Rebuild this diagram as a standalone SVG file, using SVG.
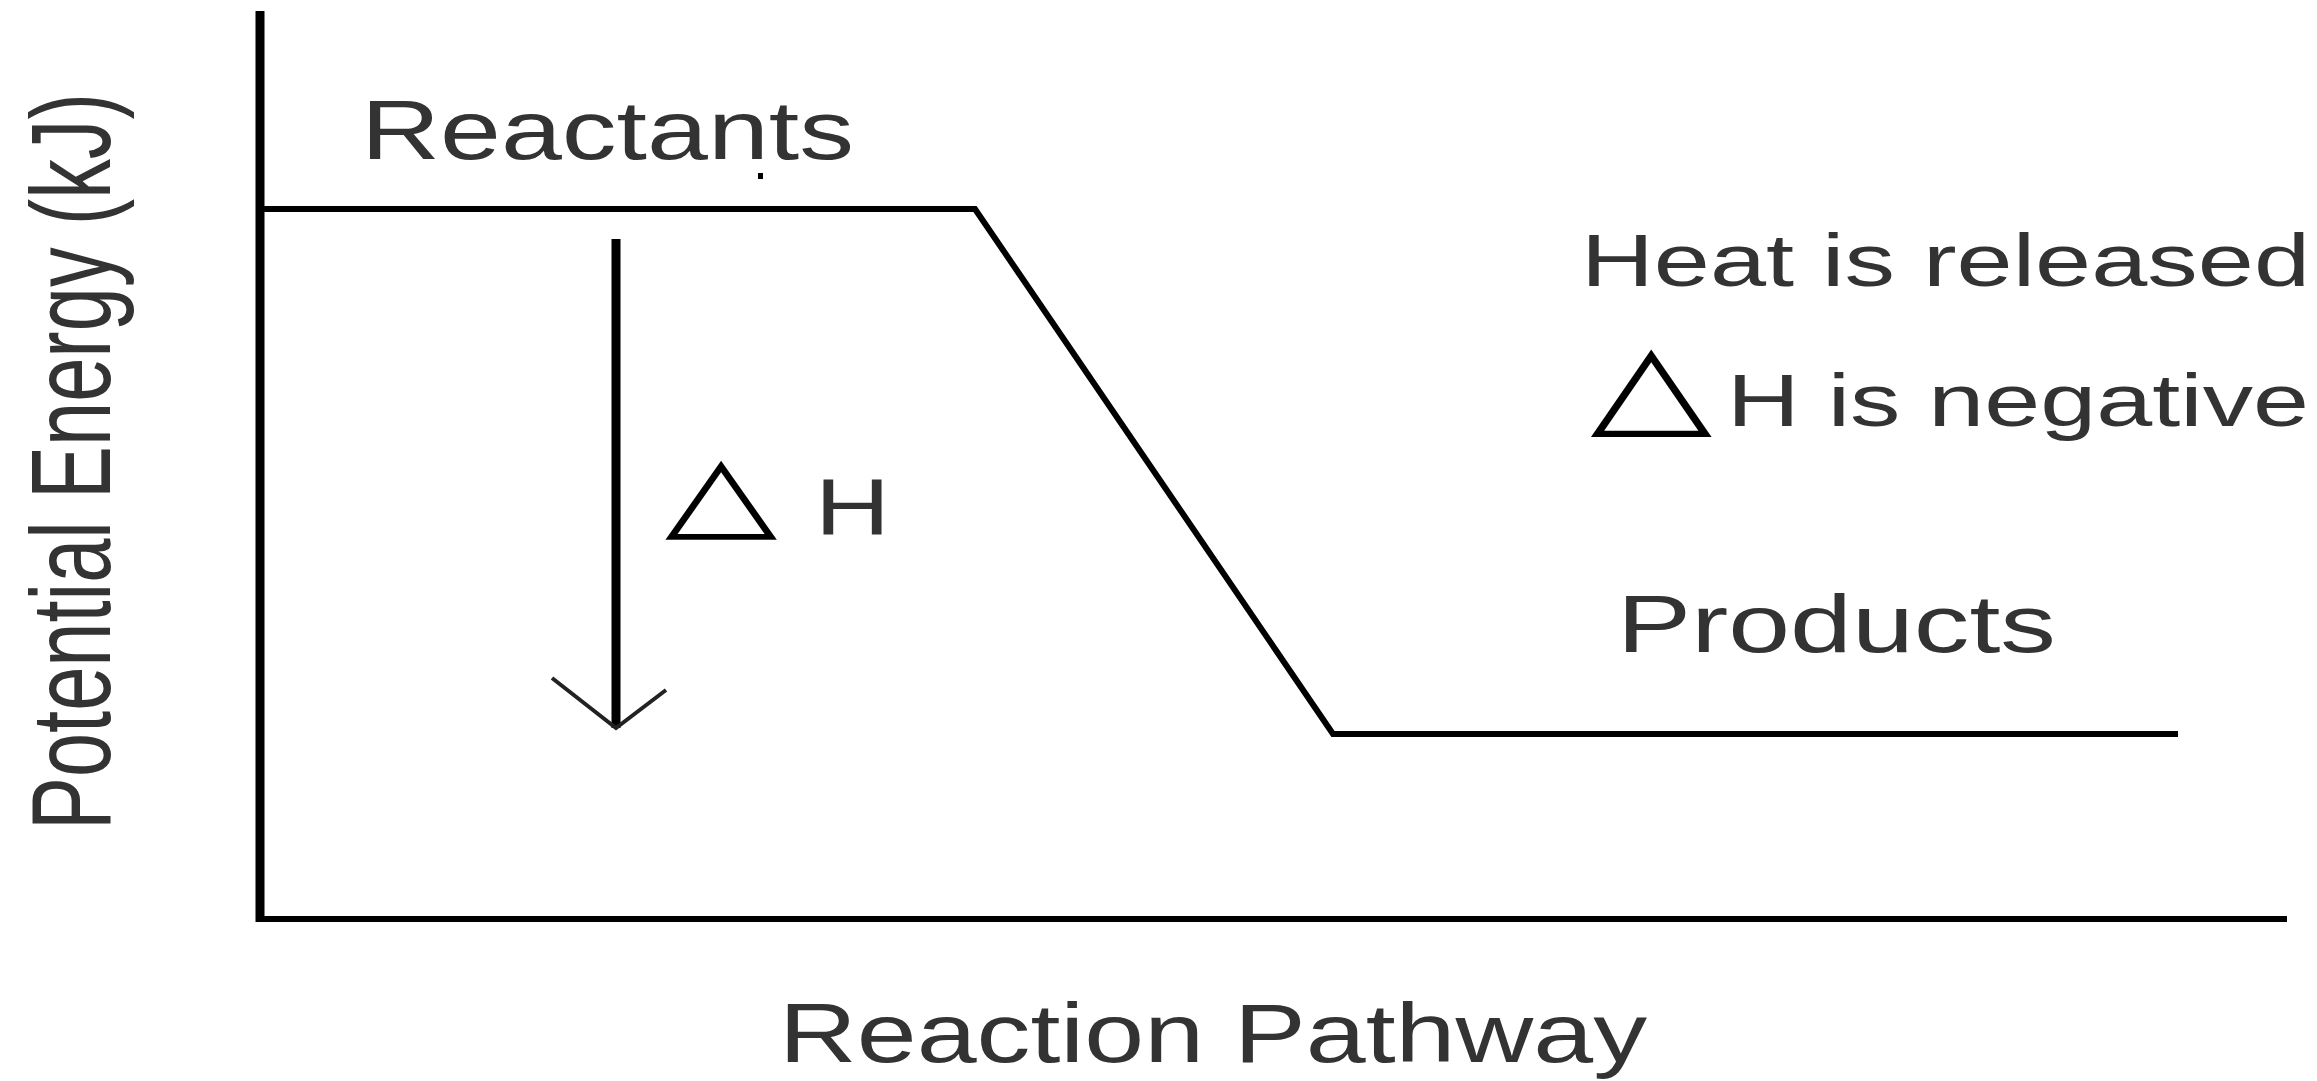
<svg xmlns="http://www.w3.org/2000/svg" width="2317" height="1081" viewBox="0 0 2317 1081">
<style>
.lbl{font-family:"Liberation Sans",Arial,sans-serif;fill:#333;}
.tri{font-family:"DejaVu Sans",sans-serif;fill:#000;}
.ax{stroke:#000;fill:none;stroke-linecap:butt;}
</style>
<rect width="2317" height="1081" fill="#fff"/>
<g id="axes">
<line class="ax" x1="260" y1="11" x2="260" y2="922" stroke-width="9"/>
<line class="ax" x1="256" y1="919" x2="2287" y2="919" stroke-width="6"/>
</g>
<g id="connectors">
<polyline class="ax" points="260,209 975,209 1333,734 2178,734" stroke-width="6" stroke-linejoin="miter"/>
<line class="ax" x1="616" y1="239" x2="616" y2="728" stroke-width="9"/>
<polyline points="552,678 616,728 666,690" fill="none" stroke="#222" stroke-width="4"/>
</g>
<g id="y-label">
<text class="lbl" transform="translate(110,830) scale(1.35,1) rotate(-90)" x="0" y="0" font-size="84" textLength="737" lengthAdjust="spacingAndGlyphs">Potential Energy (kJ)</text>
</g>
<g id="x-label">
<text class="lbl" x="779" y="1062" font-size="84" textLength="868" lengthAdjust="spacingAndGlyphs">Reaction Pathway</text>
</g>
<g id="reactants">
<text class="lbl" x="361" y="159" font-size="84" textLength="493" lengthAdjust="spacingAndGlyphs">Reactants</text>
<rect x="758" y="173" width="5" height="6" fill="#000"/>
</g>
<g id="products">
<text class="lbl" x="1617" y="652" font-size="81" textLength="439" lengthAdjust="spacingAndGlyphs">Products</text>
</g>
<g id="delta-h">
<text class="tri" transform="translate(665,527) scale(1.46,1.03)" font-size="100">△</text>
<text class="lbl" x="815" y="534" font-size="80" textLength="75" lengthAdjust="spacingAndGlyphs">H</text>
</g>
<g id="heat-released">
<text class="lbl" x="1581" y="286" font-size="75" textLength="729" lengthAdjust="spacingAndGlyphs">Heat is released</text>
</g>
<g id="h-negative">
<text class="tri" transform="translate(1590.6,423) scale(1.52,1.1)" font-size="104">△</text>
<text class="lbl" x="1727" y="426" font-size="74" textLength="582" lengthAdjust="spacingAndGlyphs">H is negative</text>
</g>
</svg>
